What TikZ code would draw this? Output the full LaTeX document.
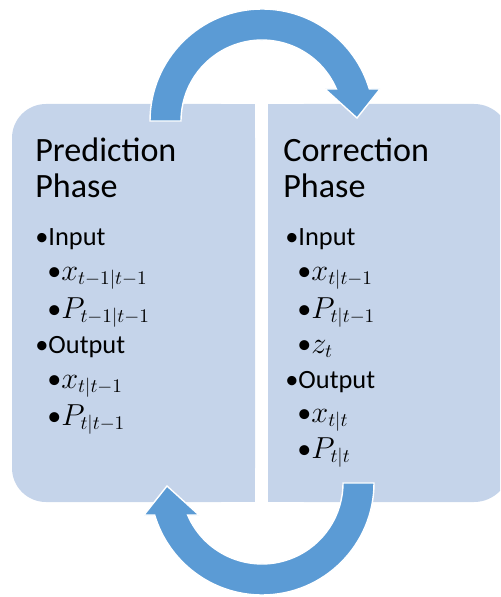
\documentclass[tikz,border=0pt]{standalone}
\usepackage{fontspec}
\setmainfont{Carlito}
\definecolor{boxblue}{RGB}{197,212,234}
\definecolor{arrowblue}{RGB}{91,155,213}

\begin{document}
\begin{tikzpicture}[
    x=0.02cm, y=-0.02cm,
    phasebox/.style={fill=boxblue},
    cyclearrow/.style={fill=arrowblue, draw=white, line width=0.8pt},
    phasetitle/.style={anchor=base west, inner sep=0pt, font=\fontsize{19.4}{21}\selectfont},
    topitem/.style={anchor=base west, inner sep=0pt, font=\fontsize{15}{17}\selectfont},
    subitem/.style={anchor=base west, inner sep=0pt, font=\fontsize{16}{18}\selectfont}
  ]
  \useasboundingbox (0,0) rectangle (500,597);
  \clip (0,0) rectangle (500,597);

  % the two phases
  \fill[phasebox, rounded corners=0.68cm] (12,104) rectangle (255,502);
  \fill[phasebox] (150,104) rectangle (255,502);
  \fill[phasebox, rounded corners=0.72cm] (268,104) rectangle (510,502);
  \fill[phasebox] (268,104) rectangle (380,502);

  % circular arrows
  \filldraw[cyclearrow] (150,121) arc[start angle=180, end angle=343.4, radius=112]
    -- (380,89) -- (357,118) -- (325,89) -- (336.4,89)
    arc[start angle=336.7, end angle=180, radius=81] -- cycle;
  \begin{scope}[rotate around={180:(262,302)}]
    \filldraw[cyclearrow] (150,121) arc[start angle=180, end angle=343.4, radius=112]
      -- (380,89) -- (357,118) -- (325,89) -- (336.4,89)
      arc[start angle=336.7, end angle=180, radius=81] -- cycle;
  \end{scope}

  % prediction
  \node[phasetitle] (predA) at (35,162) {Prediction};
  \node[phasetitle] (predB) at (35,198) {Phase};
  \node[topitem] (predIn)  at (35,246) {•Input};
  \node[subitem] (predX)   at (47,280) {•$x_{t-1|t-1}$};
  \node[subitem] (predP)   at (47,318) {•$P_{t-1|t-1}$};
  \node[topitem] (predOut) at (35,353) {•Output};
  \node[subitem] (predXo)  at (47,388) {•$x_{t|t-1}$};
  \node[subitem] (predPo)  at (47,425) {•$P_{t|t-1}$};

  % correction
  \node[phasetitle] (corrA) at (283,162) {Correction};
  \node[phasetitle] (corrB) at (283,198) {Phase};
  \node[topitem] (corrIn)  at (285,246) {•Input};
  \node[subitem] (corrX)   at (297,280) {•$x_{t|t-1}$};
  \node[subitem] (corrP)   at (297,318) {•$P_{t|t-1}$};
  \node[subitem] (corrZ)   at (297,353) {•$z_t$};
  \node[topitem] (corrOut) at (285,388) {•Output};
  \node[subitem] (corrXo)  at (297,422) {•$x_{t|t}$};
  \node[subitem] (corrPo)  at (297,458) {•$P_{t|t}$};
\end{tikzpicture}
\end{document}
